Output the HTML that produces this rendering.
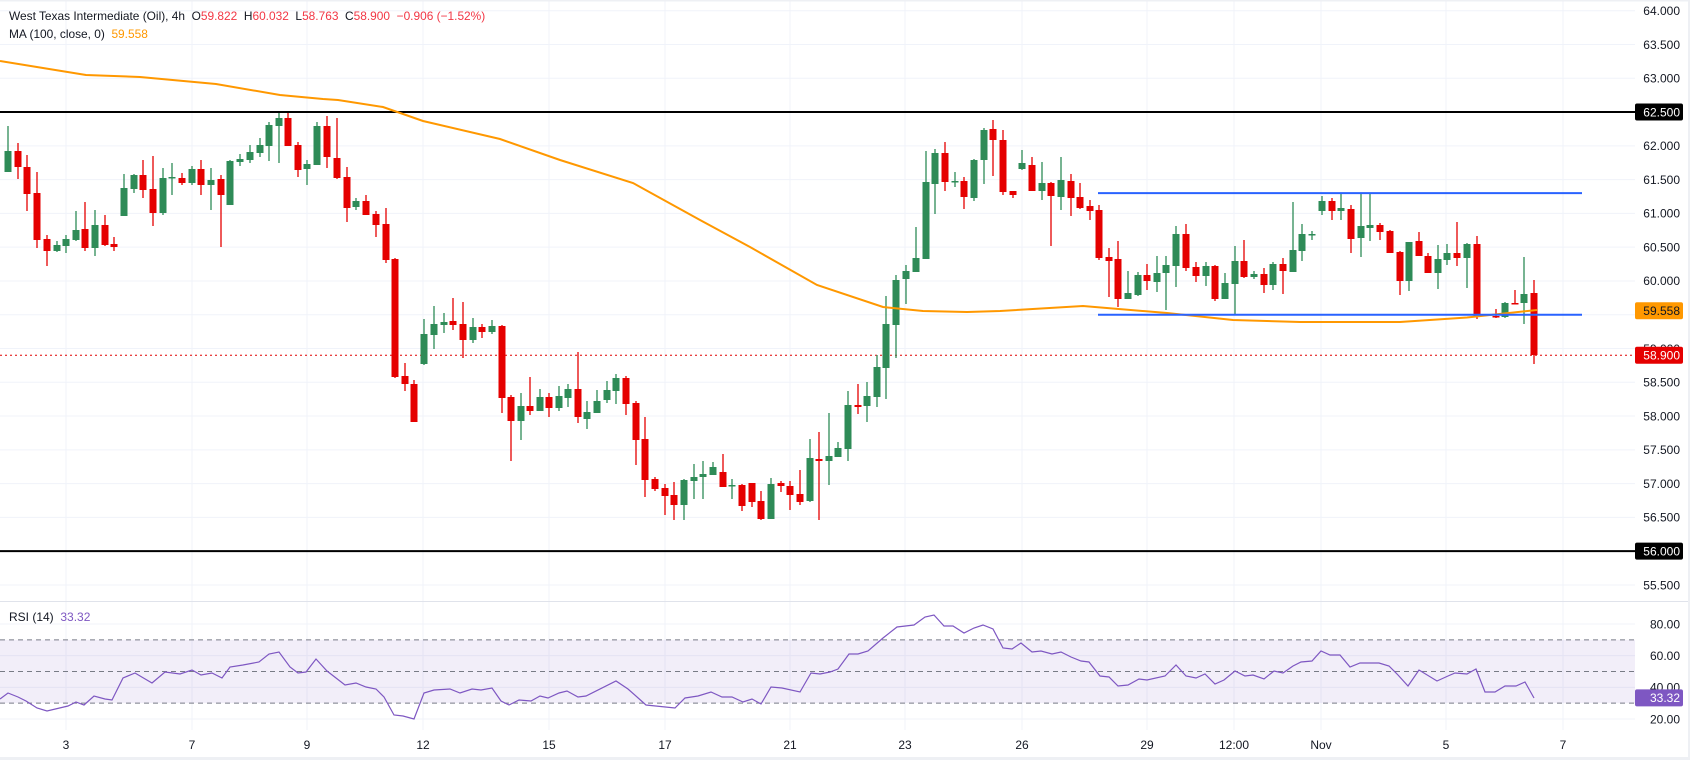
<!DOCTYPE html>
<html><head><meta charset="utf-8"><style>
html,body{margin:0;padding:0;background:#fff;width:1690px;height:760px;overflow:hidden}
svg{display:block;font-family:"Liberation Sans",sans-serif}
text{white-space:pre}
</style></head><body>
<svg id="s" width="1690" height="760" viewBox="0 0 1690 760" xmlns="http://www.w3.org/2000/svg"></svg>
<script>
let out="";
const Y=p=>10.7+(64-p)*67.56, R=r=>624+(80-r)*1.583;
for(let k=0;k<=17;k++){const y=10.7+k*33.78;out+=`<line x1="0" x2="1635" y1="${y}" y2="${y}" stroke="#f0f3fa" stroke-width="1"/>`;}
[80,60,40,20].forEach(r=>out+=`<line x1="0" x2="1635" y1="${R(r)}" y2="${R(r)}" stroke="#f0f3fa"/>`);
const xl=[[66,"3"],[192,"7"],[307,"9"],[423,"12"],[549,"15"],[665,"17"],[790,"21"],[905,"23"],[1022,"26"],[1147,"29"],[1234,"12:00"],[1321,"Nov"],[1446,"5"],[1563,"7"]];
xl.forEach(a=>{out+=`<line x1="${a[0]}" x2="${a[0]}" y1="0" y2="730" stroke="#f0f3fa"/><text x="${a[0]}" y="749" font-size="12" fill="#131722" text-anchor="middle">${a[1]}</text>`;});
out+=`<line x1="0" x2="1690" y1="601.5" y2="601.5" stroke="#e0e3eb"/><rect x="0" y="757" width="1690" height="3" fill="#eef0f4"/><rect x="1688" y="0" width="2" height="760" fill="#eef0f4"/><rect x="0" y="0" width="1690" height="1.5" fill="#eef0f4"/>`;
out+=`<rect x="0" y="${R(70)}" width="1635" height="${R(30)-R(70)}" fill="rgba(126,87,194,0.1)"/>`;
[70,50,30].forEach(r=>out+=`<line x1="0" x2="1635" y1="${R(r)}" y2="${R(r)}" stroke="#787b86" stroke-dasharray="5,4"/>`);
const rsi=[[0,699],[8,693],[18,697],[26,701],[37,708],[47,711],[68,706],[76,702],[84,705],[94,696],[105,699],[112,700],[123,678],[135,673],[152,683],[165,672],[180,674],[192,670],[201,675],[212,673],[222,678],[230,667],[243,665],[259,662],[269,654],[279,652],[290,667],[298,673],[306,672],[316,659],[327,671],[345,685],[356,683],[366,687],[376,689],[384,697],[394,715],[403,716],[414,719],[424,693],[434,690],[450,689],[460,693],[472,689],[481,690],[492,688],[501,701],[509,705],[519,700],[531,701],[540,696],[548,698],[559,693],[567,691],[578,697],[586,696],[616,681],[628,689],[646,705],[675,708],[685,698],[698,696],[711,692],[722,697],[732,697],[743,702],[752,699],[761,704],[771,687],[782,688],[800,692],[811,673],[820,674],[830,672],[838,669],[849,654],[858,654],[868,651],[883,638],[897,627],[914,625],[925,617],[934,615],[944,626],[953,626],[964,633],[974,628],[983,625],[993,629],[1003,648],[1012,649],[1021,643],[1032,652],[1041,651],[1052,654],[1061,652],[1071,657],[1081,661],[1089,662],[1100,676],[1109,677],[1118,686],[1128,685],[1139,679],[1147,680],[1165,676],[1176,665],[1186,676],[1196,678],[1205,674],[1215,684],[1224,680],[1235,671],[1245,676],[1253,675],[1264,679],[1274,671],[1283,673],[1293,666],[1301,662],[1312,661],[1321,651],[1330,655],[1340,655],[1350,667],[1360,663],[1379,663],[1389,666],[1398,675],[1408,686],[1419,670],[1437,681],[1448,676],[1455,673],[1467,674],[1476,669],[1485,692],[1495,692],[1505,686],[1516,686],[1525,682],[1534,698]];
out+=`<polyline fill="none" stroke="#7e57c2" stroke-width="1.2" points="${rsi.map(p=>p.join(',')).join(' ')}"/>`;
out+=`<line x1="0" x2="1635" y1="${Y(62.5)}" y2="${Y(62.5)}" stroke="#000" stroke-width="2"/><line x1="0" x2="1635" y1="${Y(56)}" y2="${Y(56)}" stroke="#000" stroke-width="2"/>`;
out+=`<line x1="0" x2="1635" y1="${Y(58.9)}" y2="${Y(58.9)}" stroke="#e00000" stroke-width="1" stroke-dasharray="2,3"/>`;
const ma=[[0,61],[43,68],[86,75],[140,77],[216,84],[280,95],[323,99],[338,100],[383,107],[423,121],[500,139],[560,160],[633,183],[700,220],[750,247],[817,285],[883,307],[923,311],[967,312],[1000,311],[1083,306],[1167,313],[1233,320],[1300,322],[1400,322],[1467,317.5],[1537,310]];
const C=`8,G,151,172,126,172;18,R,151,167,143,179;27,R,167,194,155,211;37,R,193,240,172,248;47,R,239,251,235,266;57,G,245,251,241,252;66,G,239,246,235,253;76,G,230,240,211,241;85,R,229,248,202,251;95,G,225,248,210,256;105,R,225,245,215,246;114,R,244,247,237,251;124,G,188,216,174,216;134,G,175,189,174,193;143,R,175,190,160,198;153,R,189,213,156,226;163,G,178,213,168,215;172,G,177,178,163,195;182,R,178,183,173,185;192,G,169,183,166,185;201,R,169,185,160,195;211,G,180,185,168,210;221,R,179,195,175,247;230,G,161,205,160,205;240,G,159,162,154,166;250,G,152,160,145,163;260,G,145,153,138,157;269,G,125,146,122,161;279,G,118,126,113,163;288,R,118,146,113,146;298,R,145,170,142,177;307,G,164,169,160,185;317,G,126,165,122,165;327,R,126,157,116,168;337,R,158,178,118,179;347,R,177,208,167,222;356,G,201,207,198,210;366,R,201,215,195,215;376,R,214,225,211,237;386,R,224,260,208,263;395,R,259,377,258,378;405,R,376,384,363,391;414,R,384,422,380,422;424,G,334,364,319,365;434,G,324,335,306,349;444,G,322,325,313,333;453,R,321,325,298,330;463,R,324,340,302,358;473,G,327,340,318,343;482,R,327,332,324,338;492,G,326,332,320,334;502,R,326,398,325,413;511,R,397,421,395,461;521,G,406,421,393,440;530,R,406,411,377,415;540,G,397,411,389,411;549,R,397,408,393,417;559,G,396,408,386,411;568,G,389,398,384,407;578,R,389,417,352,423;587,G,412,419,401,429;597,G,401,413,390,413;607,G,390,400,381,403;616,G,378,391,374,404;626,R,378,404,376,415;636,R,403,440,401,465;645,R,439,480,417,497;655,R,479,489,477,491;665,R,488,496,484,515;674,R,495,505,482,520;684,G,480,505,479,520;694,G,477,481,464,499;703,G,474,477,461,499;713,G,467,475,462,475;723,R,472,487,454,487;732,G,485,486,479,499;742,R,485,506,484,511;752,R,483,502,483,507;761,R,501,519,491,520;771,G,484,519,478,519;781,R,483,486,481,492;790,R,486,495,481,510;800,R,494,502,470,505;810,G,458,501,439,502;819,R,459,461,432,520;829,G,456,461,413,485;838,G,448,457,442,457;848,G,405,449,391,461;858,R,405,407,384,414;867,G,396,406,382,422;877,G,367,397,355,407;886,G,324,368,296,399;896,G,280,325,275,358;906,G,271,279,265,304;916,G,258,272,227,272;926,G,182,259,151,259;935,G,153,184,149,214;945,R,153,182,142,191;955,G,181,182,172,187;964,R,181,197,177,209;974,G,160,198,159,201;984,G,130,160,128,184;993,R,129,140,120,176;1003,R,140,192,130,195;1013,R,191,195,191,198;1022,G,163,169,150,170;1032,R,165,191,157,191;1042,G,183,191,162,200;1051,R,183,196,182,246;1061,G,180,197,157,210;1071,R,181,198,174,216;1080,R,197,208,183,209;1090,R,206,211,200,220;1099,R,210,258,205,260;1109,R,257,261,248,297;1118,R,259,299,241,307;1128,G,293,299,271,299;1138,G,275,295,272,296;1147,R,275,281,264,290;1157,G,273,282,256,292;1166,G,265,273,256,310;1176,G,234,266,226,287;1186,R,234,268,224,271;1196,R,267,276,262,282;1206,G,266,276,262,286;1215,R,266,299,265,301;1225,G,283,299,273,299;1235,G,261,284,246,315;1244,R,261,277,240,278;1254,G,274,277,271,279;1264,R,274,285,268,293;1273,G,264,285,262,290;1283,R,264,271,258,294;1293,G,250,272,202,272;1302,G,234,251,224,261;1312,G,234,235,231,240;1322,G,201,211,196,215;1332,R,201,211,198,220;1341,G,208,211,194,220;1351,R,209,239,205,253;1361,G,226,238,194,257;1370,G,225,228,194,241;1380,R,225,232,223,240;1390,R,231,253,230,253;1400,R,252,281,251,295;1409,G,242,281,242,291;1419,R,241,256,232,256;1428,R,256,273,253,273;1438,G,259,273,245,289;1447,G,253,260,244,265;1457,R,253,258,222,266;1467,G,244,258,243,288;1477,R,244,317,236,319;1486,R,316,317,309,318;1495,G,303,317,302,318;1505,R,303,304,290,304;1514,G,294,303,257,324;1524,R,293,355,280,364`;
let cs="";
C.split(";").forEach(s=>{let [x,c,bt,bb,wt,wb]=s.split(",");x=+x;bt=+bt;bb=+bb;if(x>=1486)x+=10;
 const col=c=="G"?"#2e8b57":"#e50000";if(bb-bt<1.5){bb=bt+1.5;}
 cs+=`<line x1="${x}" x2="${x}" y1="${wt}" y2="${wb}" stroke="${col}" stroke-width="1.3"/><rect x="${x-3.5}" y="${bt}" width="7" height="${bb-bt}" fill="${col}"/>`;});
out+=cs;
out+=`<polyline fill="none" stroke="#ff9800" stroke-width="2" points="${ma.map(p=>p.join(',')).join(' ')}"/>`;
out+=`<line x1="1098" x2="1582" y1="${Y(61.3)}" y2="${Y(61.3)}" stroke="#2962ff" stroke-width="2"/><line x1="1098" x2="1582" y1="${Y(59.5)}" y2="${Y(59.5)}" stroke="#2962ff" stroke-width="2"/>`;
for(let p=64;p>=55.5;p-=0.5){out+=`<text x="1680" y="${Y(p)+4.3}" font-size="12" fill="#131722" text-anchor="end">${p.toFixed(3)}</text>`;}
[80,60,40,20].forEach(r=>out+=`<text x="1680" y="${R(r)+4.3}" font-size="12" fill="#131722" text-anchor="end">${r.toFixed(2)}</text>`);
const box=(v,y,bg,fg)=>`<rect x="1635" y="${y-8.5}" width="48" height="17" rx="2" fill="${bg}"/><text x="1680" y="${y+4.3}" font-size="12" fill="${fg}" text-anchor="end">${v}</text>`;
out+=box("62.500",Y(62.5),"#000","#fff")+box("56.000",Y(56),"#000","#fff")+box("59.558",Y(59.558),"#ff9800","#131722")+box("58.900",Y(58.9),"#e50000","#fff")+box("33.32",R(33.32),"#7e57c2","#fff");
out+=`<text x="9" y="20" font-size="11.9" fill="#131722">West Texas Intermediate (Oil), 4h  O<tspan fill="#f23645">59.822</tspan>  H<tspan fill="#f23645">60.032</tspan>  L<tspan fill="#f23645">58.763</tspan>  C<tspan fill="#f23645">58.900</tspan>  <tspan fill="#f23645">−0.906 (−1.52%)</tspan></text>`;
out+=`<text x="9" y="38" font-size="11.9" fill="#131722">MA (100, close, 0)  <tspan fill="#ff9800">59.558</tspan></text>`;
out+=`<text x="9" y="621" font-size="12" fill="#131722">RSI (14)  <tspan fill="#7e57c2">33.32</tspan></text>`;
document.getElementById("s").innerHTML=out;
</script>
</body></html>
